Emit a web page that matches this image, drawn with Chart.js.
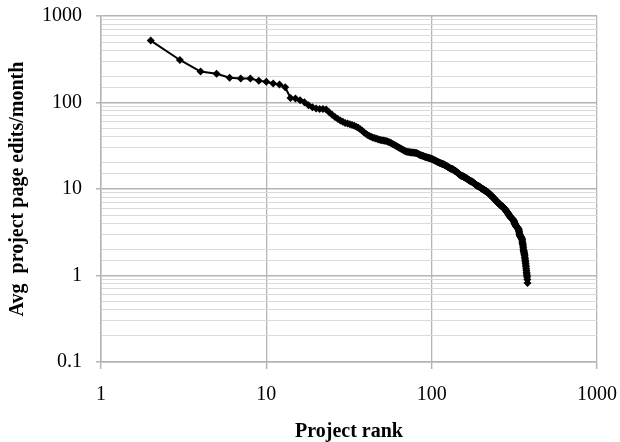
<!DOCTYPE html>
<html>
<head>
<meta charset="utf-8">
<script src="https://cdn.jsdelivr.net/npm/chart.js@4"></script>
<style>
  html, body { margin: 0; padding: 0; background: #ffffff; }
  #wrap { width: 620px; height: 442px; }
</style>
</head>
<body>
<div id="wrap"><canvas id="c" width="620" height="442"></canvas></div>
<script>
// Project rank of the first value (ranks are consecutive integers)
const startRank = 2;
// Average project page edits per month, by project rank
const editsPerMonth = [
  520, 310, 228, 215, 193, 190, 189, 178, 174, 166, 162, 150, 113, 111, 106, 101, 93, 88, 85, 84, 84, 83, 77, 72, 68, 65, 62, 60, 58,
  57, 56, 55, 54, 52.5, 51, 49, 47, 45, 43.5,
  42, 41, 40.2, 39.5, 38.9, 38.3, 37.8, 37.3, 36.9, 36.6,
  36.3, 36.1, 35.9, 35.5, 35, 34.4, 33.8, 33.2, 32.6, 32,
  31.4, 30.8, 30.3, 29.8, 29.3, 28.8, 28.4, 27.9, 27.5, 27.1,
  26.9, 26.8, 26.7, 26.6, 26.5, 26.4, 26.4, 26.3, 26.2, 26.1,
  26.0, 25.7, 25.4, 25.1, 24.8, 24.6, 24.4, 24.2, 24.0, 23.8,
  23.6, 23.5, 23.3, 23.2, 23.0, 22.9, 22.7, 22.6, 22.4, 22.3,
  22.1, 21.9, 21.7, 21.5, 21.3, 21.1, 20.9, 20.7, 20.5, 20.4,
  20.2, 20.0, 19.9, 19.8, 19.6, 19.5, 19.4, 19.3, 19.1, 19.0,
  18.8, 18.6, 18.5, 18.3, 18.1, 17.9, 17.8, 17.6, 17.4, 17.3,
  17.2, 17.1, 17.0, 16.9, 16.8, 16.6, 16.4, 16.3, 16.1, 16.0,
  15.8, 15.6, 15.5, 15.3, 15.1, 15.0, 14.8, 14.6, 14.5, 14.3,
  14.2, 14.1, 14.1, 14.0, 14.0, 13.9, 13.8, 13.7, 13.6, 13.5,
  13.4, 13.3, 13.2, 13.1, 13.0, 12.9, 12.8, 12.7, 12.6, 12.5,
  12.4, 12.3, 12.3, 12.2, 12.2, 12.1, 12.0, 11.9, 11.8, 11.7,
  11.6, 11.5, 11.4, 11.3, 11.2, 11.1, 11.0, 10.95, 10.9, 10.85,
  10.8, 10.75, 10.7, 10.65, 10.6, 10.5, 10.4, 10.35, 10.3, 10.2,
  10.15, 10.1, 10.0, 9.95, 9.9, 9.85, 9.8, 9.7, 9.65, 9.6,
  9.55, 9.5, 9.45, 9.4, 9.35, 9.3, 9.2, 9.15, 9.1, 9.0,
  8.95, 8.9, 8.8, 8.75, 8.7, 8.6, 8.55, 8.45, 8.4, 8.3,
  8.25, 8.2, 8.1, 8.05, 8.0, 7.9, 7.85, 7.8, 7.7, 7.65,
  7.6, 7.5, 7.45, 7.4, 7.3, 7.25, 7.2, 7.15, 7.1, 7.05,
  7.0, 6.95, 6.9, 6.85, 6.8, 6.75, 6.7, 6.65, 6.6, 6.55,
  6.5, 6.45, 6.4, 6.4, 6.35, 6.3, 6.3, 6.25, 6.2, 6.2,
  6.15, 6.1, 6.05, 6.0, 5.95, 5.9, 5.85, 5.8, 5.75, 5.7,
  5.65, 5.6, 5.55, 5.5, 5.45, 5.4, 5.35, 5.3, 5.25, 5.2,
  5.15, 5.1, 5.05, 5.0, 4.95, 4.9, 4.85, 4.8, 4.75, 4.7,
  4.68, 4.65, 4.62, 4.6, 4.58, 4.55, 4.52, 4.5, 4.47, 4.44,
  4.4, 4.35, 4.3, 4.25, 4.2, 4.12, 4.05, 4.0, 3.95, 3.9,
  3.85, 3.8, 3.75, 3.72, 3.7, 3.68, 3.65, 3.62, 3.6, 3.57,
  3.54, 3.52, 3.5, 3.47, 3.45, 3.4, 3.3, 3.2, 3.1, 3.0,
  2.95, 2.9, 2.87, 2.85, 2.82, 2.8, 2.78, 2.75, 2.72, 2.7,
  2.66, 2.6, 2.5, 2.42, 2.35, 2.28, 2.2, 2.1, 2.0, 1.95,
  1.9, 1.86, 1.8, 1.75, 1.7, 1.63, 1.56, 1.5, 1.44, 1.38,
  1.31, 1.26, 1.2, 1.14, 1.08, 1.04, 1.0, 0.96, 0.9, 0.82
];
// Axis tick labels
const xTickValues = [1, 10, 100, 1000];
const yTickValues = [0.1, 1, 10, 100, 1000];
const xTitle = 'Project rank';
const yTitle = 'Avg  project page edits/month';

const points = editsPerMonth.map((v, i) => ({ x: startRank + i, y: v }));

const isPow10 = v => v > 0 && Math.abs(Math.log10(v) - Math.round(Math.log10(v))) < 1e-6;
const SERIF = "'Liberation Serif', 'Times New Roman', serif";
const MAJOR = '#b4b4b4';
const MINOR = '#dadada';

new Chart(document.getElementById('c'), {
  type: 'scatter',
  data: {
    datasets: [{
      data: points,
      showLine: true,
      borderColor: '#000000',
      backgroundColor: '#000000',
      borderWidth: 2,
      pointStyle: 'rectRot',
      pointRadius: 4,
      pointBorderWidth: 0,
      pointHoverRadius: 4,
      tension: 0
    }]
  },
  options: {
    responsive: false,
    animation: false,
    events: [],
    layout: { padding: { top: 16, right: 23, left: 0, bottom: 0 } },
    plugins: {
      legend: { display: false },
      tooltip: { enabled: false }
    },
    scales: {
      x: {
        type: 'logarithmic',
        min: 1,
        max: 1000,
        afterBuildTicks: s => { s.ticks = xTickValues.map(v => ({ value: v, major: true })); },
        afterFit: s => { s.height = 80; s.paddingLeft = 0; s.paddingRight = 0; },
        border: { display: true, color: MAJOR, width: 1.5 },
        grid: {
          color: MAJOR,
          lineWidth: 1.3,
          drawTicks: true,
          tickLength: 7,
          tickColor: MAJOR,
          tickWidth: 1.5
        },
        ticks: {
          autoSkip: false,
          maxRotation: 0,
          padding: 14,
          color: '#000000',
          font: { family: SERIF, size: 20 },
          callback: v => String(v)
        },
        title: {
          display: true,
          text: xTitle,
          color: '#000000',
          font: { family: SERIF, size: 20, weight: 'bold' },
          padding: { top: 0, bottom: -2 }
        }
      },
      y: {
        type: 'logarithmic',
        min: 0.1,
        max: 1000,
        afterFit: s => { s.width = 101; s.paddingTop = 0; s.paddingBottom = 0; },
        border: { display: true, color: MAJOR, width: 1.5 },
        grid: {
          color: c => isPow10(c.tick.value) ? MAJOR : MINOR,
          lineWidth: c => isPow10(c.tick.value) ? 1.6 : 1,
          drawTicks: true,
          tickLength: 5,
          tickColor: c => isPow10(c.tick.value) ? MAJOR : 'rgba(0,0,0,0)',
          tickWidth: 1.5
        },
        ticks: {
          autoSkip: false,
          padding: 14,
          color: '#000000',
          font: { family: SERIF, size: 20 },
          callback: v => {
            if (!isPow10(v)) return '';
            const hit = yTickValues.find(t => Math.abs(t - v) / t < 1e-6);
            return hit !== undefined ? String(hit) : '';
          }
        },
        title: {
          display: true,
          text: yTitle,
          color: '#000000',
          font: { family: SERIF, size: 20, weight: 'bold' },
          padding: { top: 6, bottom: 0 }
        }
      }
    }
  }
});
</script>
</body>
</html>
